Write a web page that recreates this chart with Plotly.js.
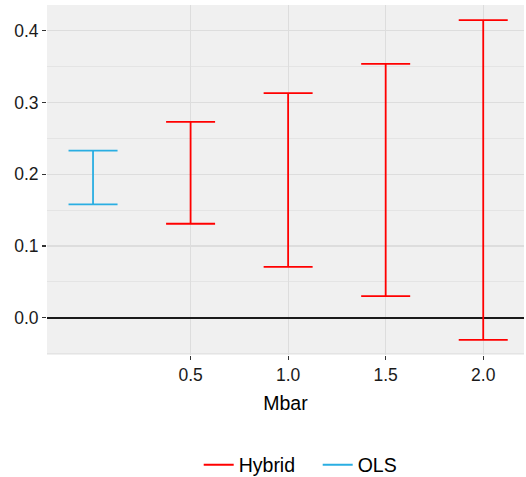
<!DOCTYPE html>
<html>
<head>
<meta charset="utf-8">
<script src="https://cdn.plot.ly/plotly-3.0.1.min.js"></script>
<style>html,body{margin:0;padding:0;background:#fff;}#chart{width:526px;height:477px;}</style>
</head>
<body>
<div id="chart"></div>
<script>
// Data
const olsX = [0];
const olsLower = [0.158];
const olsUpper = [0.233];

const hybridX = [0.5, 1.0, 1.5, 2.0];
const hybridLower = [0.131, 0.071, 0.030, -0.031];
const hybridUpper = [0.273, 0.313, 0.354, 0.415];

const xTickVals = [0.5, 1.0, 1.5, 2.0];
const xTickText = ["0.5", "1.0", "1.5", "2.0"];
const yTickVals = [0, 0.1, 0.2, 0.3, 0.4];
const yTickText = ["0.0", "0.1", "0.2", "0.3", "0.4"];
const yMinorVals = [-0.05, 0.05, 0.15, 0.25, 0.35];

const red = "#FF0000";
const blue = "#2AAEE2";

function errTrace(xs, lo, hi, color, name) {
  const mid = xs.map((_, i) => (lo[i] + hi[i]) / 2);
  return {
    type: "scatter", mode: "markers", x: xs, y: mid, name: name,
    showlegend: false, hoverinfo: "skip",
    marker: {size: 1, opacity: 0, color: color},
    error_y: {
      type: "data", symmetric: false,
      array: xs.map((_, i) => hi[i] - mid[i]),
      arrayminus: xs.map((_, i) => mid[i] - lo[i]),
      color: color, thickness: 1.8, width: 24.5
    }
  };
}

const traces = [
  errTrace(hybridX, hybridLower, hybridUpper, red, "Hybrid"),
  errTrace(olsX, olsLower, olsUpper, blue, "OLS"),
  {type: "scatter", mode: "lines", x: [null], y: [null], name: "Hybrid", line: {color: red, width: 1.8}, showlegend: true},
  {type: "scatter", mode: "lines", x: [null], y: [null], name: "OLS", line: {color: blue, width: 1.8}, showlegend: true}
];

const layout = {
  width: 526, height: 477,
  margin: {l: 47, r: 2, t: 5, b: 122},
  paper_bgcolor: "#FFFFFF",
  plot_bgcolor: "#F0F0F0",
  font: {family: "Liberation Sans, Arial, sans-serif", size: 17, color: "#1A1A1A"},
  showlegend: true,
  legend: {
    orientation: "h", x: 0.604, xanchor: "center", xref: "container",
    y: 0.025, yanchor: "middle", yref: "container",
    font: {size: 19.5, color: "#000"}, itemwidth: 30, traceorder: "normal",
    entrywidth: 74, entrywidthmode: "pixels"
  },
  xaxis: {
    range: [-0.236, 2.209], automargin: false,
    tickmode: "array", tickvals: xTickVals, ticktext: xTickText,
    ticks: "outside", ticklen: 4, tickwidth: 1.2, tickcolor: "#333",
    showgrid: true, gridcolor: "#DDDDDD", gridwidth: 1.1,
    zeroline: false, showline: false,
    tickfont: {size: 17.5, color: "#1A1A1A"},
    title: {text: "Mbar", font: {size: 19.5, color: "#000"}, standoff: 12}
  },
  yaxis: {
    range: [-0.052, 0.436], automargin: false,
    tickmode: "array", tickvals: yTickVals, ticktext: yTickText,
    ticks: "outside", ticklen: 4, tickwidth: 1.2, tickcolor: "#333",
    showgrid: true, gridcolor: "#DDDDDD", gridwidth: 1.1,
    minor: {tickmode: "array", tickvals: yMinorVals, showgrid: true, gridcolor: "#E4E4E4", gridwidth: 1, ticks: ""},
    zeroline: true, zerolinecolor: "#1A1A1A", zerolinewidth: 2,
    showline: false,
    tickfont: {size: 17.5, color: "#1A1A1A"}
  }
};

Plotly.newPlot("chart", traces, layout, {displayModeBar: false, staticPlot: true});
</script>
</body>
</html>
